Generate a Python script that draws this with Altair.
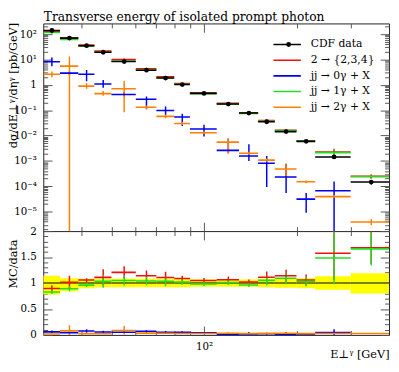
import altair as alt
import pandas as pd

FONT = "DejaVu Serif"

edges = [30, 34, 39, 44, 50, 60, 70, 80, 90, 110, 130, 150, 170, 200, 230, 300, 400]

series_names = ["CDF data", "2 → {2,3,4}", "jj → 0γ + X", "jj → 1γ + X", "jj → 2γ + X"]
series_colors = ["#000000", "#f01010", "#0000f0", "#22dd22", "#ff8000"]

data_y = [140, 70, 35, 19.3, 8.3, 3.8, 1.86, 1.03, 0.46, 0.175, 0.077, 0.035, 0.0143, 0.0059, 0.00143, 1.46e-4]
data_rel_up = [0.14, 0.09, 0.08, 0.08, 0.08, 0.08, 0.08, 0.08, 0.07, 0.07, 0.07, 0.08, 0.08, 0.09, 0.13, 0.19]
data_rel_dn = [0.22, 0.16, 0.10, 0.08, 0.08, 0.08, 0.08, 0.08, 0.07, 0.07, 0.07, 0.08, 0.09, 0.10, 0.13, 0.20]

red_y = [125, 71, 37, 21.4, 10.0, 4.33, 2.06, 1.12, 0.483, 0.186, 0.0785, 0.0389, 0.0163, 0.00625, 0.00225, 2.45e-4]
red_rel = [0.07, 0.125, 0.035, 0.14, 0.097, 0.09, 0.10, 0.05, 0.045, 0.06, 0.045, 0.10, 0.10, 0.10, 0.33, 0.19]

green_y = [116, 62.3, 33.6, 19.9, 8.7, 3.95, 1.92, 1.05, 0.451, 0.177, 0.074, 0.0368, 0.0156, 0.00608, 0.00212, 2.42e-4]
green_rel = [0.05, 0.06, 0.04, 0.12, 0.09, 0.08, 0.09, 0.05, 0.04, 0.05, 0.04, 0.09, 0.09, 0.09, 0.34, 0.19]

blue_y = [8.2, 2.9, 2.6, 1.09, 0.42, 0.27, 0.098, 0.054, 0.018, 0.0026, 0.00155, 8.1e-4, 2.3e-4, 3.1e-5, 6.6e-5, None]
blue_hi = [11.9, 3.4, 3.87, 1.56, 0.54, 0.35, 0.14, 0.072, 0.0265, 0.0077, 0.0045, 0.00155, 7.7e-4, 5.4e-5, 1.55e-4, None]
blue_lo = [5.4, 2.4, 1.39, 0.77, 0.35, 0.11, 0.064, 0.024, 0.0091, 0.002, 0.001, 9.3e-5, 5.4e-5, 9.1e-6, 0.0, None]

orange_y = [2.6, 5.5, 0.89, 0.45, 0.70, 0.13, 0.057, 0.030, 0.013, 0.0055, 0.0020, 0.00107, 4.8e-4, 1.5e-4, 3.9e-5, 3.9e-6]
orange_hi = [3.4, 13, 1.19, 0.57, 1.43, 0.155, 0.067, 0.035, 0.0148, 0.0079, 0.0023, 0.00124, 7.7e-4, 1.7e-4, 4.5e-5, 5.1e-6]
orange_lo = [2.0, 0.0, 0.70, 0.37, 0.084, 0.11, 0.048, 0.026, 0.0114, 0.0019, 0.0017, 9.2e-4, 2.4e-4, 1.3e-4, 3.4e-5, 2.9e-6]

x_ticks = [40, 50, 60, 70, 80, 90, 100, 200, 300]
x_major = [100]
x_major_labels = ["10²"]
y_major = [1e-5, 1e-4, 1e-3, 1e-2, 1e-1, 1, 10, 100]
y_major_labels = ["10⁻⁵", "10⁻⁴", "10⁻³", "10⁻²", "10⁻¹", "1", "10¹", "10²"]
r_major = [0, 0.5, 1, 1.5, 2]
r_major_labels = ["0", "0.5", "1", "1.5", "2"]

TITLE = "Transverse energy of isolated prompt photon"
YTITLE = "dσ/dE⊥ᵞ/dηᵞ [pb/GeV]"
XTITLE = "E⊥ᵞ [GeV]"
RTITLE = "MC/data"

YMIN, YMAX = 1.7e-6, 265.0
RMIN, RMAX = 0.0, 2.0
W, H_MAIN, H_RATIO = 353, 212, 106
H = H_MAIN + H_RATIO

# ---------- build tables ----------
rows = []
for i in range(len(data_y)):
    lo, hi = edges[i], edges[i + 1]
    xc = 0.5 * (lo + hi)
    d = data_y[i]
    entries = [
        ("CDF data", d, d * (1 + data_rel_up[i]), d * (1 - data_rel_dn[i])),
        (series_names[1], red_y[i], red_y[i] * (1 + red_rel[i]), red_y[i] * (1 - red_rel[i])),
        (series_names[2], blue_y[i], blue_hi[i], blue_lo[i]),
        (series_names[3], green_y[i], green_y[i] * (1 + green_rel[i]), green_y[i] * (1 - green_rel[i])),
        (series_names[4], orange_y[i], orange_hi[i], orange_lo[i]),
    ]
    for name, v, vhi, vlo in entries:
        if v is None:
            continue
        rows.append(dict(series=name, lo=lo, hi=hi, xc=xc, y=v,
                         yhi=min(vhi, YMAX), ylo=max(vlo, YMIN),
                         r=v / d, rhi=min(vhi / d, RMAX), rlo=max(vlo / d, RMIN)))
df = pd.DataFrame(rows)
df_data = df[df.series == "CDF data"]
df_mc = df[df.series != "CDF data"]
df_all = pd.concat([df_mc, df_data])

TC = "#555555"
LOGMAJ = "abs(log(datum.value)/LN10 - round(log(datum.value)/LN10)) < 1e-6"
TICK_LOG = {"expr": f"{LOGMAJ} ? -9 : -4.5"}
TICK_X = {"expr": "abs(datum.value - 100) < 1e-6 ? -9 : -4.5"}
TICK_R = {"expr": "abs(datum.value*2 - round(datum.value*2)) < 1e-6 ? -9 : -4.5"}


def label_expr(values, labels):
    parts = [f"abs(datum.value - {v!r}) < {abs(v) * 1e-6 + 1e-12} ? '{l}'" for v, l in zip(values, labels)]
    return " : ".join(parts) + " : ''"


y_ticks = [m * 10.0 ** k for k in range(-6, 3) for m in range(1, 10) if YMIN <= m * 10.0 ** k <= YMAX]
r_ticks = [round(i * 0.1, 1) for i in range(21)]

xscale = alt.Scale(type="log", domain=[edges[0], edges[-1]], nice=False)
yscale = alt.Scale(type="log", domain=[YMIN, YMAX], range=[H_MAIN, 0], nice=False)
rscale = alt.Scale(domain=[RMIN, RMAX], range=[H, H_MAIN], nice=False, zero=False)
cscale = alt.Scale(domain=series_names, range=series_colors)


def ax(orient, values, tick, labels=False, expr=None, title=None, **kw):
    a = dict(orient=orient, values=values, tickSize=tick, tickColor=TC, tickWidth=1,
             domain=False, grid=False, labels=labels, title=title, minExtent=0)
    if labels:
        a.update(labelExpr=expr, labelFont=FONT, labelFontSize=10.5, labelColor="#000",
                 labelOverlap=False, labelFlush=False, labelPadding=16)
    a.update(kw)
    return alt.Axis(**a)


LEG_X, LEG_Y = 234, 14
legend = alt.Legend(orient="none", legendX=LEG_X, legendY=LEG_Y, title=None, symbolType="stroke",
                    symbolSize=784, symbolStrokeWidth=1.6, labelFont=FONT, labelFontSize=11,
                    labelOffset=9, padding=0, rowPadding=1, clipHeight=15, labelColor="#000")
dot_legend = alt.Legend(orient="none", legendX=LEG_X + 11.5, legendY=LEG_Y, title=None,
                        symbolType="circle", symbolSize=24, symbolStrokeWidth=0,
                        labelExpr="''", padding=0, rowPadding=1, clipHeight=15)

TKW = dict(titleFont=FONT, titleFontSize=11.5, titleFontWeight="normal",
           titleBaseline="alphabetic", titleColor="#000")

# axes of the upper panel
ax_main_bottom = ax("bottom", x_ticks, TICK_X, offset={"expr": str(-H_RATIO)},
                    domain=True, domainColor="#222222", domainWidth=1)
ax_main_top = ax("top", x_ticks, TICK_X, title=TITLE, titleX=0, titleY=-3, titleAlign="left",
                 **{**TKW, "titleFontSize": 12.5})
ax_main_left = ax("left", y_ticks, TICK_LOG, True, label_expr(y_major, y_major_labels), YTITLE,
                  titleX=-27, titleY=-1, titleAlign="right", **TKW)
ax_main_right = ax("right", y_ticks, TICK_LOG)

# axes of the ratio panel
ax_r_bottom = ax("bottom", x_ticks, TICK_X, True, label_expr(x_major, x_major_labels), XTITLE,
                 titleX=W, titleY=23, titleAlign="right", **TKW)
ax_r_top = ax("top", x_ticks, TICK_X, offset={"expr": str(-H_MAIN)})
ax_r_left = ax("left", r_ticks, TICK_R, True, label_expr(r_major, r_major_labels), RTITLE,
               titleX=-27, titleY=H_MAIN + 8, titleAlign="right", **TKW)
ax_r_right = ax("right", r_ticks, TICK_R)

col = alt.Color("series:N", scale=cscale, legend=legend)

# ---------- upper panel ----------
mc_err = alt.Chart(df_mc).mark_rule(strokeWidth=1.5, clip=True).encode(
    x=alt.X("xc:Q", scale=xscale, axis=ax_main_bottom),
    y=alt.Y("ylo:Q", scale=yscale, axis=ax_main_left), y2="yhi:Q", color=col)
hbars = alt.Chart(df_all).mark_rule(strokeWidth=1.6, clip=True).encode(
    x=alt.X("lo:Q", scale=xscale, axis=ax_main_bottom), x2="hi:Q",
    y=alt.Y("y:Q", scale=yscale, axis=ax_main_left), color=col)
data_err = alt.Chart(df_data).mark_rule(strokeWidth=1.5, color="#000", clip=True).encode(
    x=alt.X("xc:Q", scale=xscale, axis=ax_main_bottom),
    y=alt.Y("ylo:Q", scale=yscale, axis=ax_main_left), y2="yhi:Q")
dots = alt.Chart(df_data).mark_circle(size=24, opacity=1).encode(
    x=alt.X("xc:Q", scale=xscale, axis=ax_main_bottom),
    y=alt.Y("y:Q", scale=yscale, axis=ax_main_left),
    fill=alt.Fill("series:N", scale=alt.Scale(domain=series_names[:1], range=series_colors[:1]),
                  legend=dot_legend))
ghost_main = alt.Chart(df_data).mark_rule(opacity=0).encode(
    x=alt.X("lo:Q", scale=xscale, axis=ax_main_top), x2="hi:Q",
    y=alt.Y("y:Q", scale=yscale, axis=ax_main_right))

main_grp = alt.layer(alt.layer(mc_err, hbars, data_err, dots), ghost_main).resolve_axis(
    x="independent", y="independent")

# ---------- ratio panel ----------
band = alt.Chart(df_data).mark_rect(color="#ffff00", clip=True).encode(
    x=alt.X("lo:Q", scale=xscale, axis=ax_r_bottom), x2="hi:Q",
    y=alt.Y("rlo:Q", scale=rscale, axis=ax_r_left), y2="rhi:Q")
one = alt.Chart(df_data).mark_rule(strokeWidth=1.2, color="#000", clip=True).encode(
    x=alt.X("lo:Q", scale=xscale, axis=ax_r_bottom), x2="hi:Q",
    y=alt.Y("r:Q", scale=rscale, axis=ax_r_left))
r_err = alt.Chart(df_mc).mark_rule(strokeWidth=1.5, clip=True).encode(
    x=alt.X("xc:Q", scale=xscale, axis=ax_r_bottom),
    y=alt.Y("rlo:Q", scale=rscale, axis=ax_r_left), y2="rhi:Q", color=col)
r_bars = alt.Chart(df_mc).mark_rule(strokeWidth=1.6, clip=True).encode(
    x=alt.X("lo:Q", scale=xscale, axis=ax_r_bottom), x2="hi:Q",
    y=alt.Y("r:Q", scale=rscale, axis=ax_r_left), color=col)
ghost_r = alt.Chart(df_data).mark_rule(opacity=0).encode(
    x=alt.X("lo:Q", scale=xscale, axis=ax_r_top), x2="hi:Q",
    y=alt.Y("r:Q", scale=rscale, axis=ax_r_right))

ratio_grp = alt.layer(alt.layer(band, one, r_err, r_bars), ghost_r).resolve_axis(
    x="independent", y="independent")

chart = alt.layer(main_grp, ratio_grp).resolve_scale(y="independent").resolve_axis(
    x="independent", y="independent").properties(
    width=W, height=H,
    autosize=alt.AutoSizeParams(type="none"),
    padding={"left": 36, "top": 12, "right": 2, "bottom": 30},
).configure_view(stroke="#222222", strokeWidth=1)

chart.save("out.html", embed_options={"renderer": "svg", "actions": False})
